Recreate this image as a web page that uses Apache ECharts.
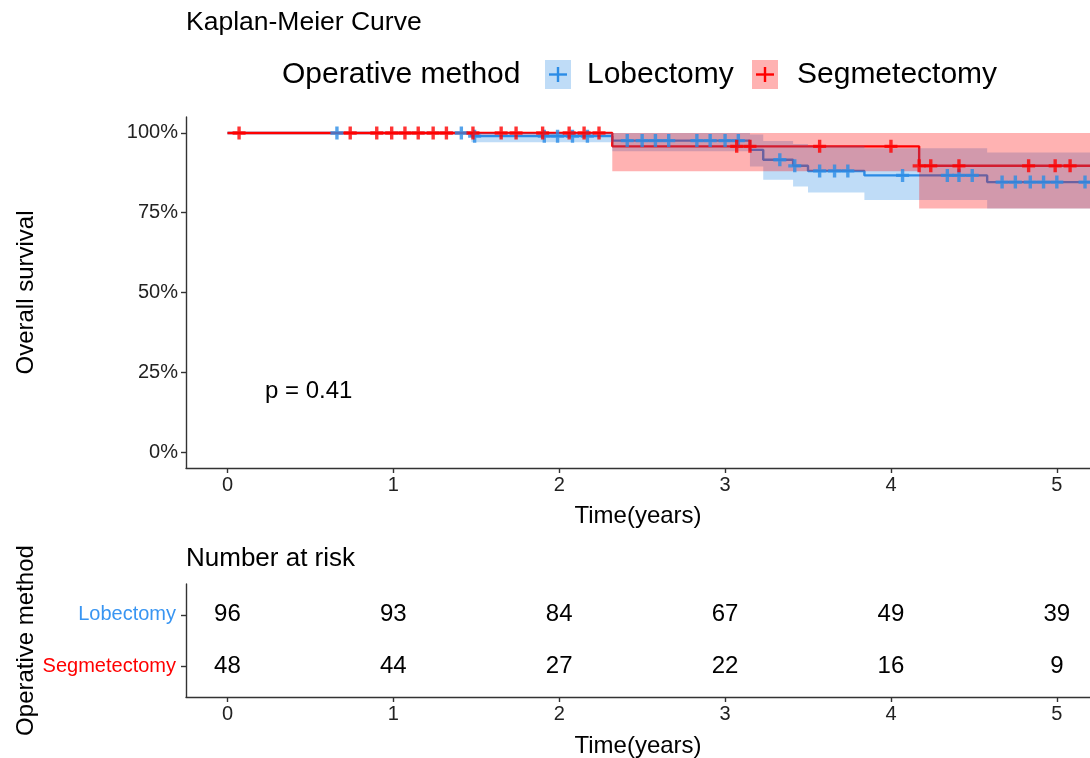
<!DOCTYPE html>
<html>
<head>
<meta charset="utf-8">
<script src="https://cdn.jsdelivr.net/npm/echarts@6/dist/echarts.min.js"></script>
<style>
html,body{margin:0;padding:0;background:#fff;}
#chart{width:1090px;height:758px;}
</style>
</head>
<body>
<div id="chart"></div>
<script>
// ---------------- data ----------------
const groups = ['Lobectomy', 'Segmetectomy'];
// Lobectomy KM step curve (time in years, survival)
const lobeTime  = [0, 1.47, 2.32, 3.15, 3.23, 3.41, 3.50, 3.84, 4.58, 5.25];
const lobeSurv  = [1.0, 0.990, 0.976, 0.947, 0.916, 0.897, 0.881, 0.867, 0.846, 0.846];
const lobeLower = [1.0, 0.971, 0.943, 0.895, 0.853, 0.832, 0.813, 0.790, 0.763];
const lobeUpper = [1.0, 1.0, 1.0, 0.995, 0.975, 0.965, 0.960, 0.952, 0.939];
const lobeCensor = [0.66, 1.41, 1.49, 1.91, 1.99, 2.08, 2.17, 2.41, 2.50, 2.58, 2.66, 2.83, 2.91, 3.00, 3.08,
                    3.33, 3.42, 3.57, 3.66, 3.74, 4.07, 4.34, 4.41, 4.49, 4.67, 4.75, 4.84, 4.92, 5.00, 5.17];
// Segmentectomy KM step curve
const segTime  = [0, 2.32, 4.17, 5.25];
const segSurv  = [1.0, 0.958, 0.897, 0.897];
const segLower = [1.0, 0.880, 0.763];
const segUpper = [1.0, 1.0, 1.0];
const segCensor = [0.07, 0.74, 0.90, 0.99, 1.07, 1.15, 1.24, 1.32, 1.48, 1.65, 1.74, 1.90, 2.06, 2.15, 2.24,
                   3.07, 3.15, 3.57, 4.00, 4.17, 4.24, 4.41, 4.83, 4.99, 5.08];
// Number at risk
const riskTimes = [0, 1, 2, 3, 4, 5];
const lobeRisk = [96, 93, 84, 67, 49, 39];
const segRisk  = [48, 44, 27, 22, 16, 9];
const xTicks = [0, 1, 2, 3, 4, 5];
const yTicks = [0, 0.25, 0.5, 0.75, 1];
const pValueText = 'p = 0.41';

// ---------------- helpers ----------------
const BLUE = '#2B8CE6';
const RED = '#FF0000';
const BLUE_BAND = 'rgba(43,140,230,0.3)';
const RED_BAND = 'rgba(255,0,0,0.3)';
const FONT = '"Liberation Sans", Arial, sans-serif';

function stepPairs(t, s) { return t.map((v, i) => [v, s[i]]); }
function survAt(t, times, surv) {
  let v = surv[0];
  for (let i = 0; i < times.length; i++) { if (times[i] <= t + 1e-9) v = surv[i]; }
  return v;
}
function censorPoints(c, times, surv) { return c.map(t => [t, survAt(t, times, surv)]); }

function bandSeries(times, lower, upper, fill) {
  return {
    type: 'custom', xAxisIndex: 0, yAxisIndex: 0, z: 3, silent: true,
    data: [[0]],
    renderItem: function (params, api) {
      const pts = [];
      for (let i = 0; i < lower.length; i++) {
        pts.push(api.coord([times[i], upper[i]]));
        pts.push(api.coord([times[i + 1], upper[i]]));
      }
      for (let i = lower.length - 1; i >= 0; i--) {
        pts.push(api.coord([times[i + 1], lower[i]]));
        pts.push(api.coord([times[i], lower[i]]));
      }
      const cs = params.coordSys;
      return {
        type: 'group',
        clipPath: { type: 'rect', shape: { x: cs.x, y: cs.y, width: cs.width, height: cs.height } },
        children: [{ type: 'polygon', shape: { points: pts }, style: { fill: fill } }]
      };
    }
  };
}

const plusPath = 'path://M0,3.7H10V6.3H0Z M3.7,0H6.3V10H3.7Z';

const chart = echarts.init(document.getElementById('chart'), null, { renderer: 'canvas' });

const axisLineStyle = { color: '#333333', width: 1.4 };

function xAxisDef(gridIndex, gap) {
  return {
    gridIndex: gridIndex, type: 'value', min: -0.25, max: 5.2,
    axisLine: { show: true, onZero: false, lineStyle: axisLineStyle },
    axisTick: { show: true, length: 5, lineStyle: axisLineStyle, customValues: xTicks },
    axisLabel: { customValues: xTicks, color: '#222', fontSize: 20, fontFamily: FONT, margin: 7 },
    splitLine: { show: false },
    name: 'Time(years)', nameLocation: 'middle', nameGap: gap, nameMoveOverlap: false,
    nameTextStyle: { color: '#000', fontSize: 24, fontFamily: FONT }
  };
}

const option = {
  animation: false,
  backgroundColor: '#ffffff',
  textStyle: { fontFamily: FONT },
  grid: [
    { left: 186, right: 0, top: 117, height: 351, outerBoundsMode: 'none', containLabel: false },
    { left: 186, right: 0, top: 584, height: 113, outerBoundsMode: 'none', containLabel: false }
  ],
  xAxis: [ xAxisDef(0, 36), xAxisDef(1, 37) ],
  yAxis: [
    {
      gridIndex: 0, type: 'value', min: -0.05, max: 1.05,
      axisLine: { show: true, onZero: false, lineStyle: axisLineStyle },
      axisTick: { show: true, length: 5, lineStyle: axisLineStyle, customValues: yTicks },
      axisLabel: { customValues: yTicks, color: '#222', fontSize: 20, fontFamily: FONT, margin: 8,
        formatter: v => Math.round(v * 100) + '%' },
      splitLine: { show: false },
      name: 'Overall survival', nameLocation: 'middle', nameGap: 148, nameRotate: 90, nameMoveOverlap: false,
      nameTextStyle: { color: '#000', fontSize: 24, fontFamily: FONT }
    },
    {
      gridIndex: 1, type: 'value', min: 0.4, max: 2.6,
      axisLine: { show: true, onZero: false, lineStyle: axisLineStyle },
      axisTick: { show: true, length: 5, lineStyle: axisLineStyle, customValues: [1, 2] },
      axisLabel: { customValues: [1, 2], margin: 10,
        formatter: v => v === 2 ? '{l|' + groups[0] + '}' : '{s|' + groups[1] + '}',
        rich: {
          l: { color: '#3895F2', fontSize: 20, fontFamily: FONT },
          s: { color: RED, fontSize: 20, fontFamily: FONT }
        } },
      splitLine: { show: false },
      name: 'Operative method', nameLocation: 'middle', nameGap: 148, nameRotate: 90, nameMoveOverlap: false,
      nameTextStyle: { color: '#000', fontSize: 24, fontFamily: FONT }
    }
  ],
  series: [
    { name: groups[0], type: 'line', step: 'end', data: stepPairs(lobeTime, lobeSurv),
      showSymbol: false, lineStyle: { color: BLUE, width: 2.4 }, z: 2, clip: true, silent: true },
    { name: groups[1], type: 'line', step: 'end', data: stepPairs(segTime, segSurv),
      showSymbol: false, lineStyle: { color: RED, width: 2.4 }, z: 2, clip: true, silent: true },
    bandSeries(lobeTime, lobeLower, lobeUpper, BLUE_BAND),
    bandSeries(segTime, segLower, segUpper, RED_BAND),
    { type: 'scatter', data: censorPoints(lobeCensor, lobeTime, lobeSurv), symbol: plusPath, symbolSize: 13,
      itemStyle: { color: BLUE }, z: 4, silent: true },
    { type: 'scatter', data: censorPoints(segCensor, segTime, segSurv), symbol: plusPath, symbolSize: 13,
      itemStyle: { color: RED }, z: 5, silent: true },
    { type: 'custom', xAxisIndex: 1, yAxisIndex: 1, silent: true,
      data: riskTimes.map((t, i) => [t, 2, lobeRisk[i]]).concat(riskTimes.map((t, i) => [t, 1, segRisk[i]])),
      renderItem: function (params, api) {
        const p = api.coord([api.value(0), api.value(1)]);
        return { type: 'text', x: p[0], y: p[1],
          style: { text: String(api.value(2)), fill: '#000', align: 'center', verticalAlign: 'middle',
            fontSize: 24, fontFamily: FONT } };
      } }
  ],
  graphic: [
    { type: 'text', left: 186, top: 9, style: { text: 'Kaplan-Meier Curve', fontSize: 26.5, fontFamily: FONT, fill: '#000' } },
    { type: 'text', x: 282, y: 75, style: { text: 'Operative method', fontSize: 30, fontFamily: FONT, fill: '#000', verticalAlign: 'middle' } },
    { type: 'rect', shape: { x: 545, y: 60, width: 26, height: 29 }, style: { fill: BLUE_BAND } },
    { type: 'line', shape: { x1: 549, y1: 74.5, x2: 567, y2: 74.5 }, style: { stroke: BLUE, lineWidth: 2.4 } },
    { type: 'line', shape: { x1: 558, y1: 67, x2: 558, y2: 82 }, style: { stroke: BLUE, lineWidth: 2.4 } },
    { type: 'text', x: 587, y: 75, style: { text: groups[0], fontSize: 30, fontFamily: FONT, fill: '#000', verticalAlign: 'middle' } },
    { type: 'rect', shape: { x: 752, y: 60, width: 26, height: 29 }, style: { fill: RED_BAND } },
    { type: 'line', shape: { x1: 756, y1: 74.5, x2: 774, y2: 74.5 }, style: { stroke: RED, lineWidth: 2.4 } },
    { type: 'line', shape: { x1: 765, y1: 67, x2: 765, y2: 82 }, style: { stroke: RED, lineWidth: 2.4 } },
    { type: 'text', x: 797, y: 75, style: { text: groups[1], fontSize: 30, fontFamily: FONT, fill: '#000', verticalAlign: 'middle' } },
    { type: 'text', x: 265, y: 391, style: { text: pValueText, fontSize: 24, fontFamily: FONT, fill: '#000', verticalAlign: 'middle' } },
    { type: 'text', x: 186, y: 559, style: { text: 'Number at risk', fontSize: 26, fontFamily: FONT, fill: '#000', verticalAlign: 'middle' } }
  ]
};
chart.setOption(option);
</script>
</body>
</html>
